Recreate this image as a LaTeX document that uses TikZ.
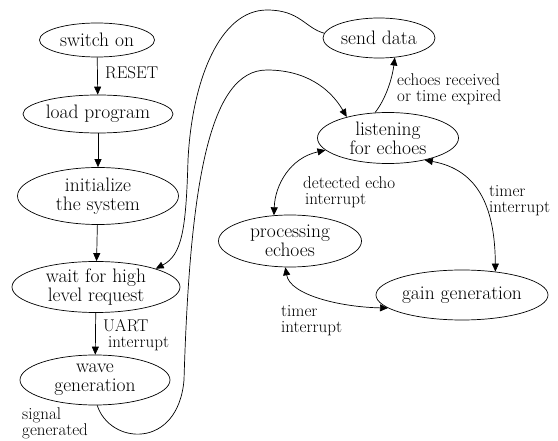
\documentclass[tikz,border=0pt]{standalone}
\usetikzlibrary{shapes.geometric,arrows.meta}

\begin{document}
\begin{tikzpicture}[x = 1pt, y = -1pt,
    state/.style = {draw, ellipse, line width = .7pt, inner sep = -3pt,
      align = center, font = \fontsize{19.5}{19}\selectfont},
    event/.style = {anchor = west, align = left, inner sep = 0pt,
      font = \fontsize{17}{16}\selectfont},
    trans/.style = {line width = .7pt, -{Triangle[length = 8pt, width = 7pt]}},
    both/.style = {line width = .7pt,
      {Triangle[length = 8pt, width = 7pt]}-{Triangle[length = 8pt, width = 7pt]}}]
  \useasboundingbox (0,0) rectangle (558,441);

  % draws the states
  \foreach \name/\x/\y/\w/\h/\txt in {
      sw/97/40/115/34/{switch on},
      load/98/114/150/38/{load program},
      init/98/196/161/57/{initialize\\the system},
      wait/96/287/168/51/{wait for high\\level request},
      wave/95/380/150/50/{wave\\generation},
      send/379/38/112/40/{send data},
      listen/388/138/141/51/{listening\\for echoes},
      proc/290/241/143/52/{processing\\echoes},
      gain/462/295/172/50/{gain generation}}
    \node[state, minimum width = \w pt, minimum height = \h pt]
      (\name) at (\x,\y) {\txt};

  % draws the events
  \node[event] (reset) at (105,73) {RESET};
  \node[event] (uart) at (103,335) {UART\\\hspace*{5pt}interrupt};
  \node[event] (signal) at (22,423) {signal\\generated};
  \node[event] (echoes) at (397,89) {echoes received\\or time expired};
  \node[event] (detect) at (303,192) {detected echo\\\hspace*{2pt}interrupt};
  \node[event] (timerA) at (489,201) {timer\\interrupt};
  \node[event] (timerB) at (281,321) {timer\\interrupt};

  % draws the transitions
  \foreach \a/\b in {sw/load, load/init, init/wait, wait/wave}
    \draw[trans] (\a) -- (\b);

  \draw[trans] (wave.-85) .. controls (110,445) and (178,450) .. (184,380)
    .. controls (190,180) and (210,70) .. (267,70)
    .. controls (305,70) and (330,88) .. (listen.153);
  \draw[trans] (send.175) .. controls (305,28) and (300,10) .. (267,10)
    .. controls (220,10) and (192,80) .. (188,160)
    .. controls (186,230) and (182,255) .. (wait.17);
  \draw[trans] (listen.117) .. controls (385,100) and (392,80) .. (send.-51);

  \draw[both] (proc.122) .. controls (275,185) and (290,158) .. (listen.191);
  \draw[both] (listen.-31) .. controls (480,170) and (495,210) .. (gain.35);
  \draw[both] (proc.-100) .. controls (290,295) and (340,307) .. (gain.190);
\end{tikzpicture}
\end{document}
